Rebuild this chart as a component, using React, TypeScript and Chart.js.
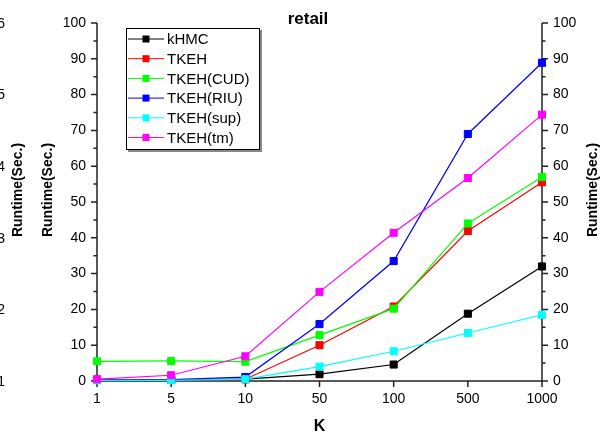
import { useEffect, useRef } from 'react';
import Chart from 'chart.js/auto';

const categories = ['1', '5', '10', '50', '100', '500', '1000'];
const kHMC = [0.3, 0.3, 0.5, 1.9, 4.6, 18.8, 32.0];
const TKEH = [0.3, 0.3, 0.5, 10.0, 20.8, 41.9, 55.5];
const TKEH_CUD = [5.5, 5.6, 5.4, 12.8, 20.2, 44.0, 57.0];
const TKEH_RIU = [0.3, 0.4, 1.1, 15.9, 33.5, 69.0, 88.9];
const TKEH_sup = [0.2, 0.2, 0.5, 4.0, 8.3, 13.4, 18.5];
const TKEH_tm = [0.5, 1.6, 6.9, 24.9, 41.4, 56.7, 74.4];

const seriesNames = ['kHMC', 'TKEH', 'TKEH(CUD)', 'TKEH(RIU)', 'TKEH(sup)', 'TKEH(tm)'];
const seriesData = [kHMC, TKEH, TKEH_CUD, TKEH_RIU, TKEH_sup, TKEH_tm];
const seriesColors = ['#000000', '#ff0000', '#00ff00', '#0000ff', '#00ffff', '#ff00ff'];

const yTicks = [0, 10, 20, 30, 40, 50, 60, 70, 80, 90, 100];
const ghostTicks = ['1', '2', '3', '4', '5', '6'];
const chartTitle = 'retail';
const xTitle = 'K';
const yTitle = 'Runtime(Sec.)';

const FONT = '"Liberation Sans", Arial, sans-serif';

const decorPlugin = {
  id: 'decor',
  beforeDatasetsDraw(chart: any) {
    const { ctx, chartArea, scales } = chart;
    const { left, right, top, bottom } = chartArea;
    const y = scales.y;
    const x = scales.x;
    ctx.save();
    ctx.strokeStyle = '#222';
    ctx.lineWidth = 1.5;
    ctx.beginPath();
    ctx.moveTo(left, top);
    ctx.lineTo(left, bottom);
    ctx.moveTo(right, top);
    ctx.lineTo(right, bottom);
    ctx.moveTo(left, bottom);
    ctx.lineTo(right, bottom);
    for (let v = 0; v <= 100; v += 5) {
      const py = y.getPixelForValue(v);
      const len = v % 10 === 0 ? 6 : 3.5;
      ctx.moveTo(left, py);
      ctx.lineTo(left - len, py);
      ctx.moveTo(right, py);
      ctx.lineTo(right + len, py);
    }
    categories.forEach((_, i) => {
      const px = x.getPixelForValue(i);
      ctx.moveTo(px, bottom);
      ctx.lineTo(px, bottom + 6);
    });
    ctx.stroke();
    ctx.restore();
  },
  afterDraw(chart: any) {
    const { ctx, chartArea, scales } = chart;
    const { left, right, top, bottom } = chartArea;
    const y = scales.y;
    const x = scales.x;
    ctx.save();
    ctx.fillStyle = '#000';
    ctx.font = `14px ${FONT}`;
    ctx.textBaseline = 'middle';
    yTicks.forEach((v) => {
      const py = y.getPixelForValue(v);
      ctx.textAlign = 'right';
      ctx.fillText(String(v), left - 11, py);
      ctx.textAlign = 'left';
      ctx.fillText(String(v), right + 11, py);
    });
    ctx.textAlign = 'center';
    categories.forEach((c, i) => {
      ctx.fillText(c, x.getPixelForValue(i), bottom + 18);
    });
    ctx.textAlign = 'right';
    ghostTicks.forEach((t, i) => {
      const py = bottom - (i * (bottom - top)) / (ghostTicks.length - 1);
      ctx.fillText(t, 5, py + 1);
    });
    // titles
    ctx.font = `bold 17px ${FONT}`;
    ctx.textAlign = 'center';
    ctx.fillText(chartTitle, 308, 19);
    ctx.font = `bold 16px ${FONT}`;
    const cx = (left + right) / 2;
    ctx.fillText(xTitle, cx, bottom + 46);
    ctx.font = `bold 14px ${FONT}`;
    const cy = 190;
    [18, 48].forEach((tx) => {
      ctx.save();
      ctx.translate(tx, cy);
      ctx.rotate(-Math.PI / 2);
      ctx.fillText(yTitle, 0, 0);
      ctx.restore();
    });
    ctx.save();
    ctx.translate(593, cy);
    ctx.rotate(-Math.PI / 2);
    ctx.fillText(yTitle, 0, 0);
    ctx.restore();

    // legend
    const lx = 126, ly = 28, lw = 133, lh = 121;
    ctx.fillStyle = '#888';
    ctx.fillRect(lx + 2, ly + 2, lw + 1, lh + 1);
    ctx.fillStyle = '#fff';
    ctx.fillRect(lx, ly, lw, lh);
    ctx.strokeStyle = '#000';
    ctx.lineWidth = 1;
    ctx.strokeRect(lx + 0.5, ly + 0.5, lw, lh);
    ctx.font = `15px ${FONT}`;
    ctx.textAlign = 'left';
    seriesNames.forEach((name, i) => {
      const ry = ly + 11 + i * 19.7;
      ctx.strokeStyle = seriesColors[i];
      ctx.beginPath();
      ctx.moveTo(lx + 2, ry);
      ctx.lineTo(lx + 38, ry);
      ctx.stroke();
      ctx.fillStyle = seriesColors[i];
      ctx.fillRect(lx + 16.5, ry - 3.5, 7, 7);
      ctx.fillStyle = '#000';
      ctx.fillText(name, lx + 41, ry + 1);
    });
    ctx.restore();
  },
};

export default function App() {
  const canvasRef = useRef<HTMLCanvasElement | null>(null);
  useEffect(() => {
    const canvas = canvasRef.current;
    if (!canvas) return;
    const n = seriesNames.length;
    const chart = new Chart(canvas, {
      type: 'line',
      data: {
        labels: categories,
        datasets: seriesNames.map((name, i) => ({
          label: name,
          data: seriesData[i],
          borderColor: seriesColors[i],
          backgroundColor: seriesColors[i],
          pointBackgroundColor: seriesColors[i],
          pointBorderColor: seriesColors[i],
          borderWidth: 1.2,
          pointStyle: 'rect',
          pointRadius: 5,
          pointBorderWidth: 1,
          tension: 0,
          clip: false as any,
          order: n - i,
        })),
      },
      options: {
        responsive: false,
        animation: false,
        layout: { padding: { left: 97, right: 65, top: 23, bottom: 58 } },
        scales: {
          x: { display: false, offset: false },
          y: { display: false, min: 0, max: 100 },
        },
        plugins: {
          legend: { display: false },
          tooltip: { enabled: false },
        },
      },
      plugins: [decorPlugin],
    });
    return () => chart.destroy();
  }, []);
  return (
    <div style={{ position: 'fixed', left: 0, top: 0, width: 607, height: 439, background: '#fff' }}>
      <canvas ref={canvasRef} width={607} height={439} style={{ display: 'block' }} />
    </div>
  );
}
